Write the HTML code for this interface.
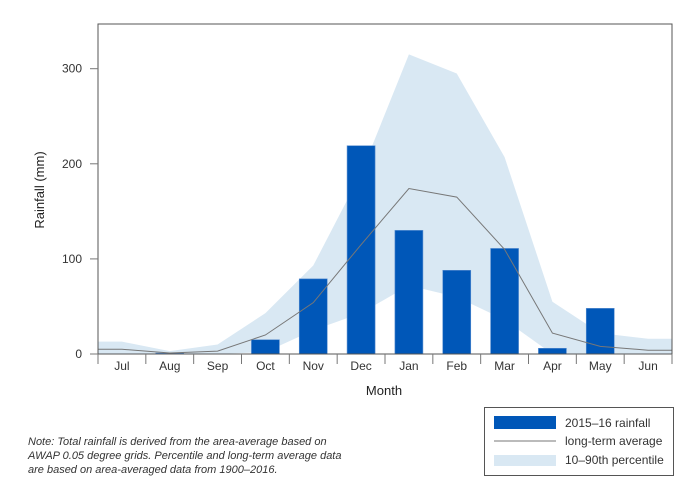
<!DOCTYPE html>
<html><head><meta charset="utf-8"><style>
body{margin:0;background:#fff;font-family:"Liberation Sans",Arial,sans-serif}
svg text{font-family:"Liberation Sans",Arial,sans-serif}
</style></head><body>
<svg width="700" height="498" viewBox="0 0 700 498">
<g id="plot"></g>
<text x="384" y="395" font-size="13" fill="#222" text-anchor="middle">Month</text>
<text transform="translate(44,190) rotate(-90)" font-size="13" fill="#222" text-anchor="middle">Rainfall (mm)</text>
<g>
<rect x="484.5" y="407.5" width="189" height="68" fill="#fff" stroke="#555"/>
<rect x="494" y="416" width="62" height="13" fill="#0057b8"/>
<text x="565" y="427" font-size="12" fill="#333">2015–16 rainfall</text>
<line x1="494" y1="441" x2="556" y2="441" stroke="#777" stroke-width="1"/>
<text x="565" y="445" font-size="12" fill="#333">long-term average</text>
<rect x="494" y="455" width="62" height="11" fill="#d9e8f3"/>
<text x="565" y="464" font-size="12" fill="#333">10–90th percentile</text>
</g>
<g font-size="11" font-style="italic" fill="#333">
<text x="28" y="445">Note: Total rainfall is derived from the area-average based on</text>
<text x="28" y="459">AWAP 0.05 degree grids. Percentile and long-term average data</text>
<text x="28" y="473">are based on area-averaged data from 1900–2016.</text>
</g>
</svg>
<script>
const months=["Jul","Aug","Sep","Oct","Nov","Dec","Jan","Feb","Mar","Apr","May","Jun"];
const rainfall=[0,1,0,15,79,219,130,88,111,6,48,0];
const average=[5,1,3,20,54,115,174,165,110,22,8,4];
const p90=[13,3,10,43,93,190,315,295,207,55,22,16];
const p10=[0,0,0,2,25,43,72,60,36,0,0,0];
const yTicks=[0,100,200,300];
const L=98,R=672,T=24,B=354,yMax=347;
const bw=(R-L)/months.length;
const x=i=>L+bw*(i+0.5);
const y=v=>B-(v/yMax)*(B-T);
const NS="http://www.w3.org/2000/svg";
const g=document.getElementById('plot');
function mk(t,a){const e=document.createElementNS(NS,t);for(const k in a)e.setAttribute(k,a[k]);g.appendChild(e);return e;}
// band
let up=[[L,y(p90[0])]].concat(p90.map((v,i)=>[x(i),y(v)])).concat([[R,y(p90[p90.length-1])]]);
let lo=[[L,y(p10[0])]].concat(p10.map((v,i)=>[x(i),y(v)])).concat([[R,y(p10[p10.length-1])]]).reverse();
let band=mk('polygon',{points:up.concat(lo).map(p=>p.join(',')).join(' '),fill:'#d9e8f3'});


rainfall.forEach((v,i)=>{
 const r=mk('rect',{x:x(i)-14,y:y(v),width:28,height:B-y(v),fill:'#0057b8',stroke:'#5b8fd0','stroke-width':0.6});
 
 
});
let ap=[[L,y(average[0])]].concat(average.map((v,i)=>[x(i),y(v)])).concat([[R,y(average[average.length-1])]]);
let ln=mk('polyline',{points:ap.map(p=>p.join(',')).join(' '),fill:'none',stroke:'#777','stroke-width':1});


let fr=mk('rect',{x:L,y:T,width:R-L,height:B-T,fill:'none',stroke:'#555','stroke-width':1});


yTicks.forEach(v=>{
 const t=mk('line',{x1:90,x2:L,y1:y(v),y2:y(v),stroke:'#777'});
 
 
 const tx=mk('text',{x:82,y:y(v)+4,'font-size':12,fill:'#333','text-anchor':'end'});
 tx.textContent=v;
 
 
});
for(let i=0;i<=months.length;i++){
 const t=mk('line',{x1:L+bw*i,x2:L+bw*i,y1:B,y2:B+10,stroke:'#777'});
 
 
}
months.forEach((m,i)=>{
 const tx=mk('text',{x:x(i),y:370,'font-size':12,fill:'#333','text-anchor':'middle'});
 tx.textContent=m;
 
 
});
</script>
</body></html>
